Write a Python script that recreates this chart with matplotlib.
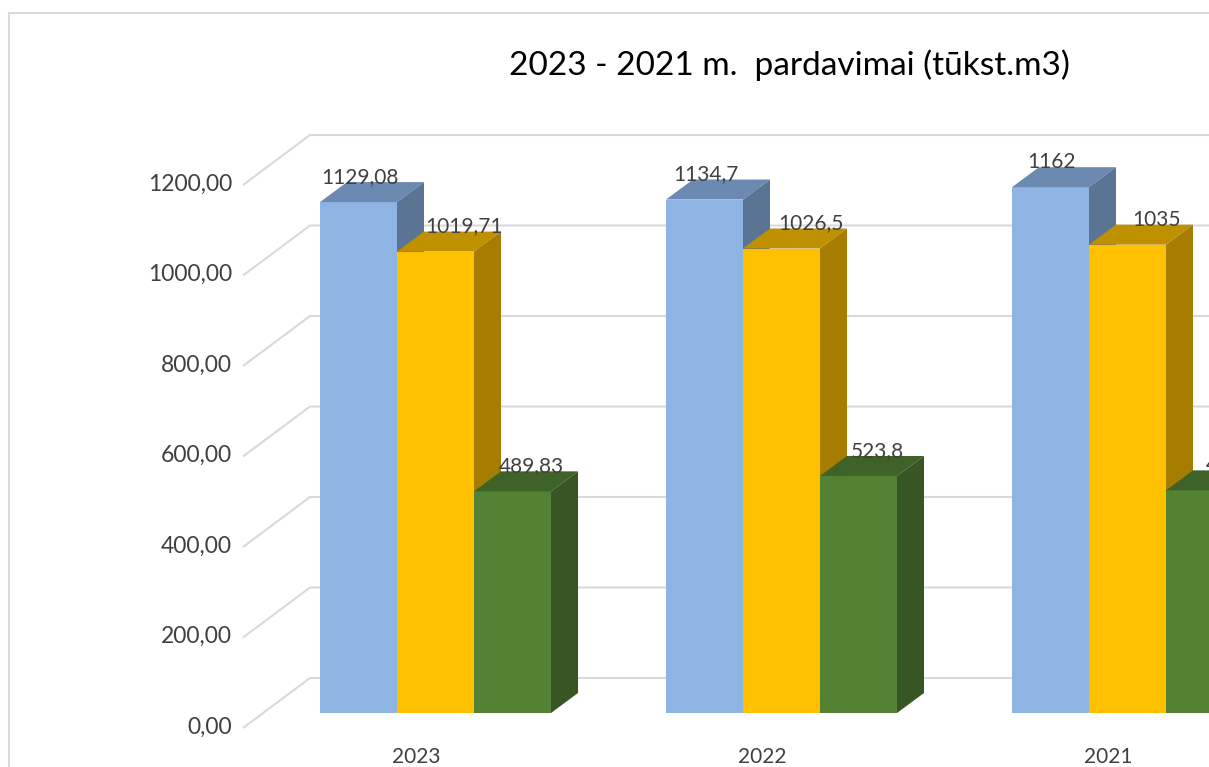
import matplotlib.pyplot as plt
from matplotlib.patches import Polygon
from matplotlib.lines import Line2D

# data (2021 green value is cut off in the source)
years = ['2023', '2022', '2021']
blue_vals = [1129.08, 1134.7, 1162]
orange_vals = [1019.71, 1026.5, 1035]
green_vals = [489.83, 523.8, 492]
y_ticks = [0, 200, 400, 600, 800, 1000, 1200]
title = '2023 - 2021 m.  pardavimai (tūkst.m3)'

series = [blue_vals, orange_vals, green_vals]
# front, top, side colours for each series
colors = [('#8EB4E3', '#6C89B1', '#5A7494'),
          ('#FFC000', '#BF9000', '#A67D00'),
          ('#548235', '#3F6229', '#375623')]
label_dx = [1, 29, 19]   # px shift of value labels, like Excel put them

plt.rcParams['font.family'] = ['Lato', 'DejaVu Sans']

W, H = 1209, 767
fig = plt.figure(figsize=(W / 100, H / 100), dpi=100)
ax = fig.add_axes([0, 0, 1, 1])
ax.axis('off')

# one group = 346 px, one unit of value = 0.4525 px; bar bottoms at 713 px from top
px_group = 346
px_unit = 0.4525
x0_px = 435.5
base_px = 713
ax.set_xlim(-x0_px / px_group, (W - x0_px) / px_group)
ax.set_ylim(-(H - base_px) / px_unit, base_px / px_unit)


def dx(px):
    return px / px_group


def dy(px):
    return px / px_unit


bar_w = dx(77)
depth_x, depth_y = dx(27), dy(20)
grid_c = '#D9D9D9'
text_c = '#404040'

# gridlines: diagonal wall edge on the left, then the back wall
left_x = -x0_px / px_group + dx(243)
for v in y_ticks:
    xs = [left_x, left_x + dx(67), 10]
    ys = [v - dy(15), v + dy(35), v + dy(35)]
    ax.plot(xs, ys, color=grid_c, lw=1.5, zorder=1, solid_capstyle='butt')
    lab = f'{v:.2f}'.replace('.', ',')
    ax.text(left_x - dx(11), v - dy(14), lab, ha='right', va='center',
            fontsize=16.5, color=text_c)

# 3D-looking bars
for i, year in enumerate(years):
    for j, vals in enumerate(series):
        v = vals[i]
        front, top, side = colors[j]
        xl = i - 1.5 * bar_w + j * bar_w
        xr = xl + bar_w
        ax.bar(xl, v, width=bar_w, align='edge', color=front, zorder=2 + j * 0.1)
        ax.add_patch(Polygon([(xl, v), (xr, v), (xr + depth_x, v + depth_y),
                              (xl + depth_x, v + depth_y)],
                             closed=True, color=top, lw=0, zorder=2 + j * 0.1))
        ax.add_patch(Polygon([(xr, 0), (xr + depth_x, depth_y),
                              (xr + depth_x, v + depth_y), (xr, v)],
                             closed=True, color=side, lw=0, zorder=2 + j * 0.1))
        lab = f'{v:g}'.replace('.', ',')
        ax.text((xl + xr) / 2 + dx(label_dx[j]), v + dy(25), lab,
                ha='center', va='center', fontsize=15, color=text_c, zorder=5)
    ax.text(i - dx(19), -dy(44), year, ha='center', va='center',
            fontsize=15, color=text_c)

fig.text(789 / W, 1 - 65 / H, title, ha='center', va='center',
         fontsize=24, color='black')

# chart area border
fig.add_artist(Line2D([9 / W, 9 / W], [0, 1 - 13 / H], color=grid_c, lw=1.5))
fig.add_artist(Line2D([9 / W, 1], [1 - 13 / H, 1 - 13 / H], color=grid_c, lw=1.5))

fig.savefig('out.png', dpi=100)
